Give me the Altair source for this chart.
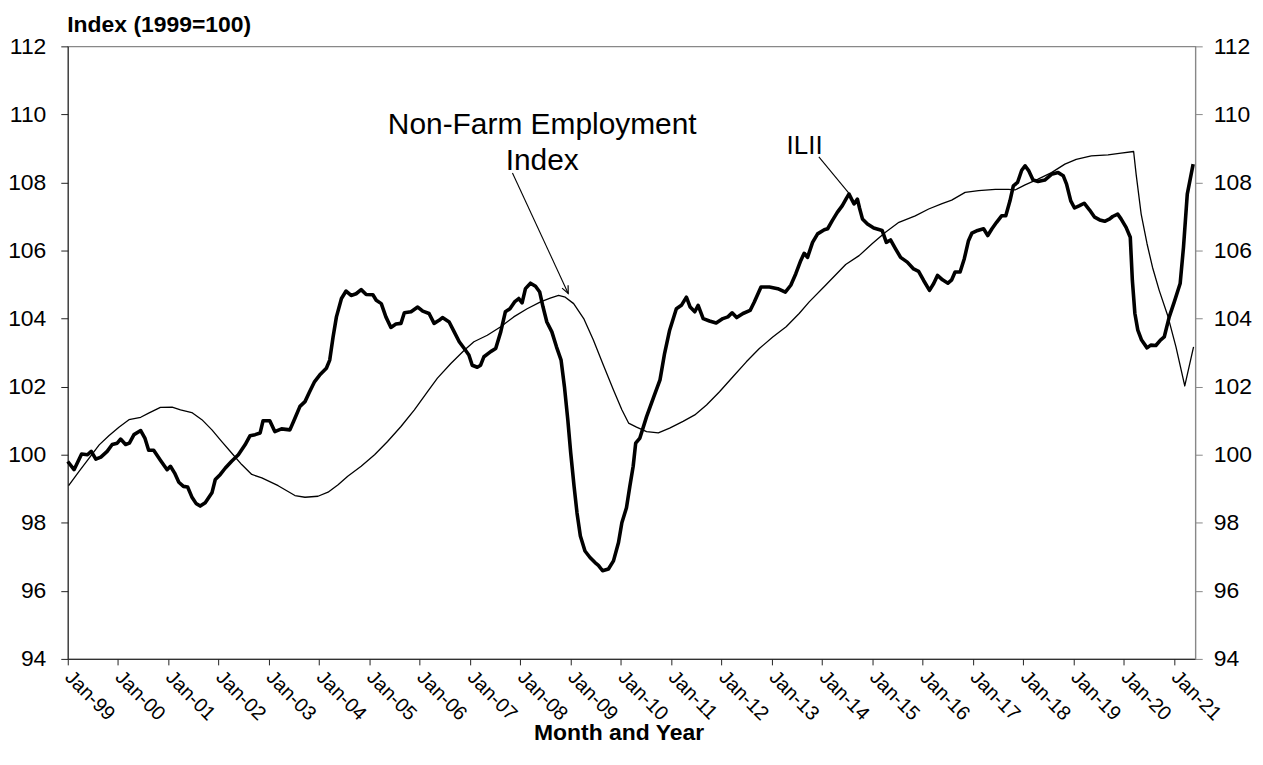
import json
import altair as alt
import pandas as pd

# ---------------- data ----------------
# month index: 0 = Jan-1999
ilii_month = [0, 1.5, 3.3, 4.7, 5.6, 6.7, 7.9, 9.4, 10.6, 11.8, 12.6, 13.8, 14.7, 15.8, 17.4, 18.4, 19.3, 20.5,
              22.1, 23.7, 24.5, 25.5, 26.5, 27.6, 28.6, 29.6, 30.6, 31.6, 32.8, 34.4, 35.2, 36.4, 37.6, 39.1,
              40.7, 42.3, 43.5, 44.7, 45.9, 46.6, 48.2, 49.4, 51, 53, 54.2, 55.4, 56.6, 57.7, 58.9, 60.1, 61.7,
              62.5, 63.3, 64.1, 65.3, 66.4, 67.6, 68.8, 70, 71.2, 72.8, 73.6, 74.8, 75.9, 77.1, 78.3, 79.5,
              80.3, 81.9, 83.5, 84.7, 86.2, 87.4, 88.6, 89.4, 91, 92.2, 93.4, 94.6, 95.7, 96.5, 97.7, 98.5,
              99.3, 100.9, 102.1, 103.3, 104.4, 105.5, 106.6, 107.6, 108.4, 109.2, 110.4, 111.6, 112.6, 113.4,
              114.3, 115.5, 116.6, 117.7, 118.5, 119.3, 120, 120.8, 121.5, 122.3, 123.4, 124.6, 125.8, 126.6,
              127.6, 129, 130.2, 131.4, 132.2, 133.3, 134.1, 134.9, 135.5, 136.5, 138.1, 139.7, 141.3, 142.4,
              143.6, 145.2, 146.4, 147.6, 148.5, 149.6, 150.4, 151.6, 153.1, 154.7, 156.3, 157.5, 158.5, 159.6,
              161.1, 162.8, 163.8, 165.4, 167.4, 169.4, 171.2, 172.5, 173.7, 174.9, 175.7, 176.5, 177.7, 178.9,
              180.5, 181.3, 182.4, 183.6, 184.8, 185.8, 186.4, 187, 187.6, 188.4, 188.9, 189.6, 190.8, 192.3,
              194.3, 195.3, 196.3, 197.5, 198.7, 200.3, 201.8, 203, 204.2, 205.6, 206.6, 207.5, 208.7, 210,
              210.9, 211.7, 212.9, 213.9, 214.9, 215.7, 217.1, 218.5, 219.5, 220.5, 221.6, 222.8, 223.8, 224.8,
              225.6, 226.6, 227.6, 228.4, 229.3, 230.3, 231.5, 233.1, 234.7, 236.3, 237.5, 238.3, 239.3, 240.2,
              241.4, 242.5, 243.8, 245, 246.2, 247.4, 248.6, 249.3, 250.5, 251.3, 252.5, 253.5, 254, 254.6,
              255.3, 256.2, 257.5, 258.4, 259.6, 260.7, 261.6, 262.8, 264, 265.4, 266.2, 267.1, 268.5]
ilii_value = [99.8, 99.56, 100.02, 100.0, 100.1, 99.87, 99.93, 100.1, 100.3, 100.34, 100.46, 100.3, 100.34, 100.59,
              100.71, 100.49, 100.13, 100.13, 99.84, 99.56, 99.66, 99.46, 99.19, 99.07, 99.05, 98.76, 98.57, 98.49,
              98.59, 98.88, 99.27, 99.42, 99.61, 99.81, 100.0, 100.29, 100.56, 100.59, 100.64, 101.0, 101.0,
              100.68, 100.76, 100.73, 101.07, 101.42, 101.56, 101.85, 102.15, 102.34, 102.54, 102.78, 103.46,
              104.05, 104.59, 104.81, 104.68, 104.73, 104.85, 104.71, 104.7, 104.54, 104.44, 104.05, 103.74,
              103.84, 103.86, 104.17, 104.2, 104.34, 104.22, 104.15, 103.86, 103.95, 104.03, 103.9, 103.61,
              103.32, 103.12, 102.93, 102.63, 102.57, 102.63, 102.88, 103.03, 103.12, 103.61, 104.2, 104.29,
              104.49, 104.59, 104.46, 104.88, 105.04, 104.95, 104.78, 104.34, 103.9, 103.61, 103.17, 102.78,
              102.0, 101.03, 100.05, 99.07, 98.29, 97.61, 97.17, 96.98, 96.83, 96.75, 96.59, 96.64, 96.88, 97.42,
              98.0, 98.44, 99.07, 99.66, 100.34, 100.49, 101.12, 101.66, 102.2, 102.98, 103.66, 104.29, 104.39,
              104.63, 104.34, 104.2, 104.39, 104.0, 103.93, 103.87, 104.0, 104.05, 104.17, 104.03, 104.15,
              104.24, 104.49, 104.93, 104.93, 104.88, 104.78, 104.98, 105.32, 105.71, 105.92, 105.8, 106.24,
              106.49, 106.61, 106.64, 106.88, 107.12, 107.32, 107.54, 107.66, 107.51, 107.37, 107.51, 107.25,
              106.93, 106.78, 106.66, 106.59, 106.24, 106.31, 106.05, 105.8, 105.66, 105.46, 105.39, 105.12,
              104.83, 105.03, 105.27, 105.14, 105.04, 105.14, 105.37, 105.37, 105.76, 106.29, 106.51, 106.59,
              106.64, 106.44, 106.64, 106.83, 107.02, 107.02, 107.46, 107.9, 108.0, 108.36, 108.49, 108.34,
              108.07, 108.03, 108.07, 108.24, 108.29, 108.2, 107.95, 107.46, 107.25, 107.32, 107.39, 107.19,
              106.98, 106.9, 106.86, 106.93, 107.0, 107.07, 106.93, 106.68, 106.39, 105.12, 104.15, 103.66,
              103.37, 103.14, 103.22, 103.21, 103.37, 103.46, 104.05, 104.49, 105.03, 106.1, 107.66, 108.54]

nfe_month = [0.2, 2.7, 5.1, 7.5, 9.8, 12.2, 14.6, 17.4, 19.3, 22.1, 24.9, 26.9, 29.6, 32, 34.4, 36.7, 39.1, 41.5,
             43.9, 46.3, 50.2, 54.2, 56.6, 59.7, 62.1, 64.5, 66.8, 70, 73.2, 76.3, 79.5, 82.7, 85.8, 88.2, 91.4,
             94.6, 96.9, 100.1, 103.3, 106.4, 109.6, 112.8, 115.1, 117.1, 118.7, 120.7, 123.1, 125.4, 127.8,
             130.2, 132.2, 133.8, 135.7, 138.1, 140.9, 143.6, 146.8, 149.6, 152.4, 155.5, 158.7, 161.9, 165,
             168.2, 171.4, 174.5, 176.9, 180.8, 185.6, 188.8, 191.9, 195.1, 198.3, 202.2, 205.4, 208.6, 210.9,
             214.1, 217.3, 221.3, 224.4, 226, 228.4, 231.5, 234.7, 237.9, 240.6, 244.2, 248.2, 251.3, 254.3,
             254.9, 256.1, 257.5, 258.8, 260.4, 262.4, 264.4, 266.5, 268.6]
nfe_value = [99.09, 99.51, 99.9, 100.29, 100.56, 100.81, 101.03, 101.1, 101.22, 101.39, 101.4, 101.32, 101.24,
             101.03, 100.73, 100.39, 100.05, 99.71, 99.42, 99.32, 99.09, 98.8, 98.75, 98.78, 98.9, 99.12, 99.37,
             99.66, 100.0, 100.39, 100.83, 101.32, 101.85, 102.25, 102.68, 103.07, 103.32, 103.51, 103.76,
             104.05, 104.29, 104.49, 104.6, 104.68, 104.63, 104.44, 104.0, 103.37, 102.63, 101.9, 101.32,
             100.93, 100.81, 100.68, 100.64, 100.78, 100.98, 101.17, 101.46, 101.85, 102.29, 102.73, 103.12,
             103.46, 103.76, 104.15, 104.49, 104.98, 105.59, 105.85, 106.2, 106.54, 106.83, 107.02, 107.22,
             107.38, 107.48, 107.71, 107.76, 107.8, 107.8, 107.78, 107.93, 108.1, 108.29, 108.54, 108.68,
             108.78, 108.81, 108.86, 108.91, 108.24, 107.07, 106.2, 105.51, 104.83, 104.1, 103.17, 102.02,
             103.17]

tick_months = [0, 12, 24, 36, 48, 60, 72, 84, 96, 108, 120, 132, 144, 156, 168, 180, 192, 204, 216, 228, 240,
               252, 264]
tick_labels = ["Jan-99", "Jan-00", "Jan-01", "Jan-02", "Jan-03", "Jan-04", "Jan-05", "Jan-06", "Jan-07",
               "Jan-08", "Jan-09", "Jan-10", "Jan-11", "Jan-12", "Jan-13", "Jan-14", "Jan-15", "Jan-16",
               "Jan-17", "Jan-18", "Jan-19", "Jan-20", "Jan-21"]
y_ticks = [94, 96, 98, 100, 102, 104, 106, 108, 110, 112]

# annotation texts (month, value positions in data space)
nfe_label = ["Non-Farm Employment", "Index"]
nfe_label_month = [113.2, 113.2]
nfe_label_value = [109.42, 108.37]
ilii_label = ["ILII"]
ilii_label_month = [175.8]
ilii_label_value = [108.84]

# leader lines: NFE arrow, ILII line
lead_m1 = [106.1, 179.2]
lead_v1 = [108.28, 108.75]
lead_m2 = [119.4, 186.4]
lead_v2 = [104.74, 107.68]

FONT = "Liberation Sans"

ilii_df = pd.DataFrame({"m": ilii_month, "v": ilii_value})
nfe_df = pd.DataFrame({"m": nfe_month, "v": nfe_value})
nfe_text_df = pd.DataFrame({"m": nfe_label_month, "v": nfe_label_value, "t": nfe_label})
ilii_text_df = pd.DataFrame({"m": ilii_label_month, "v": ilii_label_value, "t": ilii_label})
lead_df = pd.DataFrame({"m": lead_m1, "v": lead_v1, "m2": lead_m2, "v2": lead_v2})
tip_df = pd.DataFrame({"m": lead_m2[:1], "v": lead_v2[:1]})

xscale = alt.Scale(domain=[0, 269], nice=False, zero=False)
yscale = alt.Scale(domain=[94, 112], nice=False, zero=False)

label_expr = json.dumps(tick_labels) + "[round(datum.value / 12)]"

x_axis = alt.Axis(values=tick_months, labelExpr=label_expr, labelAngle=45, labelAlign="left",
                  labelBaseline="middle", labelFont=FONT, labelFontSize=20, labelColor="black",
                  tickColor="#222", domainColor="#222", tickSize=6, labelPadding=9, grid=False,
                  title="Month and Year", titleFont=FONT, titleFontSize=23, titleFontWeight="bold",
                  titleColor="black", titleX=553, titleY=81, titleAlign="center", titleBaseline="alphabetic",
                  labelOverlap=False)

y_left = alt.Axis(values=y_ticks, orient="left", labelFont=FONT, labelFontSize=23, labelColor="black",
                  tickColor="#222", domainColor="#222", tickSize=7, labelPadding=15, grid=False,
                  title="Index (1999=100)", titleFont=FONT, titleFontSize=23, titleFontWeight="bold",
                  titleColor="black", titleAngle=0, titleX=-1, titleY=-15, titleAlign="left",
                  titleBaseline="alphabetic")

y_right = alt.Axis(values=y_ticks, orient="right", labelFont=FONT, labelFontSize=23, labelColor="black",
                   tickColor="#888", domainColor="#888", tickSize=7, labelPadding=11, grid=False, title="")

X = alt.X("m:Q", scale=xscale, axis=x_axis)

ilii = alt.Chart(ilii_df).mark_line(color="black", strokeWidth=3.6, strokeJoin="round").encode(
    x=X, y=alt.Y("v:Q", scale=yscale, axis=y_left))

nfe = alt.Chart(nfe_df).mark_line(color="black", strokeWidth=1.3, strokeJoin="round").encode(
    x=X, y=alt.Y("v:Q", scale=yscale, axis=y_right))

leads = alt.Chart(lead_df).mark_rule(color="black", strokeWidth=1.1).encode(
    x=X, y=alt.Y("v:Q", scale=yscale, axis=None), x2="m2:Q", y2="v2:Q")

tip = alt.Chart(tip_df).mark_point(shape="M-0.45,-1L0,0L0.45,-1", filled=False, stroke="black",
                                   strokeWidth=1.2, size=220, angle=335, opacity=1).encode(
    x=X, y=alt.Y("v:Q", scale=yscale, axis=None))

nfe_texts = alt.Chart(nfe_text_df).mark_text(font=FONT, fontSize=30, align="center", baseline="alphabetic",
                                             color="black").encode(
    x=X, y=alt.Y("v:Q", scale=yscale, axis=None), text="t:N")

ilii_texts = alt.Chart(ilii_text_df).mark_text(font=FONT, fontSize=26, align="center", baseline="alphabetic",
                                               color="black").encode(
    x=X, y=alt.Y("v:Q", scale=yscale, axis=None), text="t:N")

chart = alt.layer(nfe, ilii, leads, tip, nfe_texts, ilii_texts).resolve_axis(y="independent").properties(
    width=1132, height=615,
    autosize=alt.AutoSizeParams(type="none"),
    padding={"left": 60, "top": 37, "right": 60, "bottom": 100},
).configure_view(stroke="#888", strokeWidth=1.2)

chart.save("out.html", embed_options={"renderer": "svg", "actions": False})
